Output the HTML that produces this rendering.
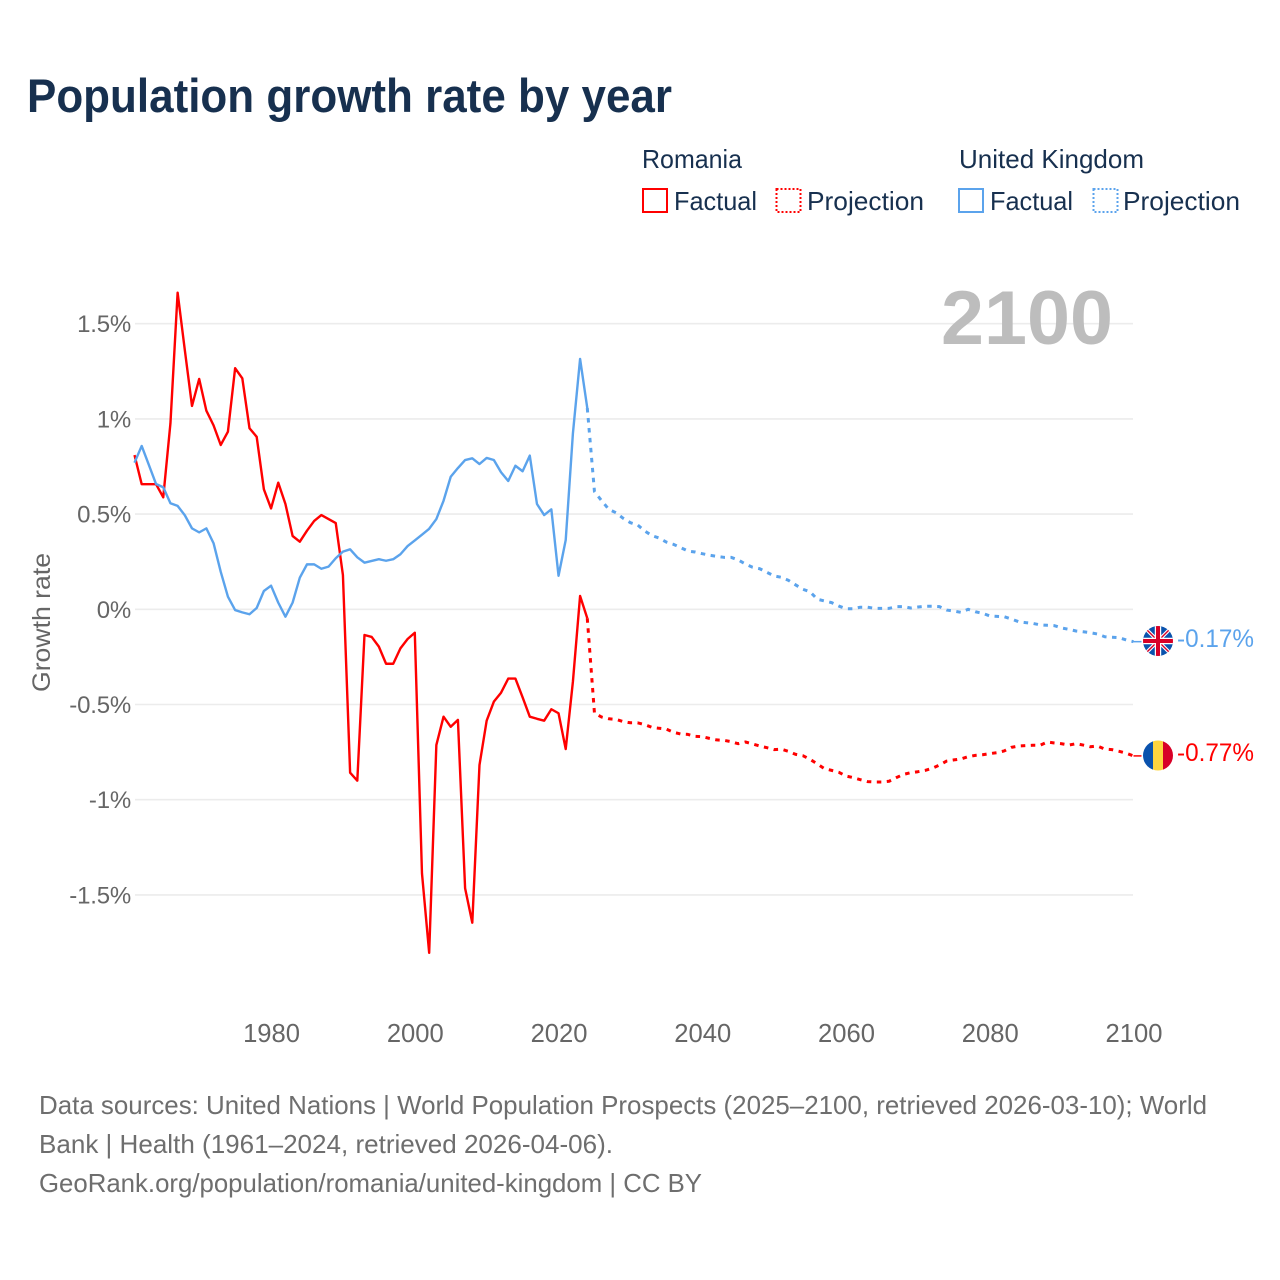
<!DOCTYPE html>
<html lang="en">
<head>
<meta charset="utf-8">
<title>Population growth rate by year</title>
<style>
html,body{margin:0;padding:0;background:#fff;}
svg{display:block;font-family:"Liberation Sans",sans-serif;}
</style>
</head>
<body>
<svg id="chart" width="1280" height="1280" viewBox="0 0 1280 1280" xmlns="http://www.w3.org/2000/svg">
  <defs>
    <clipPath id="flag-clip-uk"><circle cx="1158" cy="641" r="15"/></clipPath>
    <clipPath id="flag-clip-ro"><circle cx="1158" cy="755.5" r="15"/></clipPath>
  </defs>
  <rect width="1280" height="1280" fill="#fff"/>
  <text x="27" y="112" font-size="47" font-weight="700" fill="#17304f" textLength="645" lengthAdjust="spacingAndGlyphs">Population growth rate by year</text>

  <g font-size="26" fill="#17304f">
    <text x="642" y="168" textLength="100" lengthAdjust="spacingAndGlyphs">Romania</text>
    <rect x="643" y="189" width="24" height="23" fill="none" stroke="#ff0000" stroke-width="2"/>
    <text x="674" y="210" textLength="83" lengthAdjust="spacingAndGlyphs">Factual</text>
    <rect x="776.5" y="189" width="24" height="23" fill="none" stroke="#ff0000" stroke-width="2" stroke-dasharray="2 2"/>
    <text x="807" y="210" textLength="117" lengthAdjust="spacingAndGlyphs">Projection</text>
    <text x="959" y="168" textLength="185" lengthAdjust="spacingAndGlyphs">United Kingdom</text>
    <rect x="959" y="189" width="24" height="23" fill="none" stroke="#5ba3ec" stroke-width="2"/>
    <text x="990" y="210" textLength="83" lengthAdjust="spacingAndGlyphs">Factual</text>
    <rect x="1093.5" y="189" width="24" height="23" fill="none" stroke="#5ba3ec" stroke-width="2" stroke-dasharray="2 2"/>
    <text x="1123" y="210" textLength="117" lengthAdjust="spacingAndGlyphs">Projection</text>
  </g>

  <g id="grid"></g>
  <text x="941" y="344" font-size="76" font-weight="700" fill="#bdbdbd" textLength="172" lengthAdjust="spacingAndGlyphs">2100</text>
  <g id="y-axis" font-size="24" fill="#666" text-anchor="end"></g>
  <g id="x-axis" font-size="25.6" fill="#666" text-anchor="middle"></g>
  <text transform="translate(50,622.5) rotate(-90)" font-size="25" fill="#666" text-anchor="middle" textLength="139" lengthAdjust="spacingAndGlyphs">Growth rate</text>
  <g id="series" fill="none" stroke-width="2.4" stroke-linejoin="round"></g>

  <g id="end-markers">
    <g clip-path="url(#flag-clip-uk)">
      <rect x="1143" y="626" width="30" height="30" fill="#0a52ad"/>
      <path d="M1143 626L1173 656M1173 626L1143 656" stroke="#fff" stroke-width="3.6"/>
      <path d="M1143 626L1173 656M1173 626L1143 656" stroke="#d80027" stroke-width="1.4"/>
      <path d="M1158 626V656M1143 641H1173" stroke="#fff" stroke-width="6.4"/>
      <path d="M1158 626V656M1143 641H1173" stroke="#d80027" stroke-width="4"/>
    </g>
    <g clip-path="url(#flag-clip-ro)">
      <rect x="1143" y="740" width="10" height="31" fill="#0a52ad"/>
      <rect x="1153" y="740" width="10" height="31" fill="#fed53f"/>
      <rect x="1163" y="740" width="10" height="31" fill="#d80027"/>
    </g>
    <text x="1177" y="647" font-size="25" fill="#5ba3ec" textLength="77" lengthAdjust="spacingAndGlyphs">-0.17%</text>
    <text x="1177" y="761" font-size="25" fill="#ff0000" textLength="77" lengthAdjust="spacingAndGlyphs">-0.77%</text>
  </g>

  <g font-size="26" fill="#6e6e6e">
    <text x="39" y="1114" textLength="1168" lengthAdjust="spacingAndGlyphs">Data sources: United Nations | World Population Prospects (2025–2100, retrieved 2026-03-10); World</text>
    <text x="39" y="1153" textLength="574" lengthAdjust="spacingAndGlyphs">Bank | Health (1961–2024, retrieved 2026-04-06).</text>
    <text x="39" y="1192" textLength="663" lengthAdjust="spacingAndGlyphs">GeoRank.org/population/romania/united-kingdom | CC BY</text>
  </g>
</svg>
<script>
const firstFactualYear = 1961;
const firstProjectionYear = 2025;
const yTicks = [1.5, 1, 0.5, 0, -0.5, -1, -1.5];
const yTickLabels = ["1.5%", "1%", "0.5%", "0%", "-0.5%", "-1%", "-1.5%"];
const xTicks = [1980, 2000, 2020, 2040, 2060, 2080, 2100];
const xTickLabels = ["1980", "2000", "2020", "2040", "2060", "2080", "2100"];
const romaniaFactual = [
  0.810, 0.657, 0.657, 0.657, 0.588, 0.977, 1.663, 1.362, 1.068, 1.210,
  1.043, 0.966, 0.863, 0.933, 1.266, 1.213, 0.951, 0.906, 0.630, 0.530,
  0.665, 0.553, 0.385, 0.355, 0.413, 0.464, 0.495, 0.474, 0.453, 0.180,
  -0.858, -0.900, -0.135, -0.145, -0.196, -0.286, -0.286, -0.205, -0.156, -0.123,
  -1.387, -1.804, -0.713, -0.564, -0.617, -0.581, -1.465, -1.646, -0.818, -0.585,
  -0.485, -0.438, -0.364, -0.364, -0.462, -0.564, -0.575, -0.585, -0.525, -0.546,
  -0.734, -0.380, 0.070, -0.047
];
const romaniaProjection = [
  -0.546, -0.566, -0.575, -0.578, -0.590, -0.596, -0.596, -0.606, -0.620, -0.625,
  -0.629, -0.646, -0.655, -0.657, -0.667, -0.669, -0.678, -0.686, -0.688, -0.695,
  -0.706, -0.697, -0.707, -0.718, -0.727, -0.737, -0.735, -0.746, -0.762, -0.769,
  -0.788, -0.812, -0.837, -0.846, -0.856, -0.876, -0.884, -0.895, -0.905, -0.907,
  -0.907, -0.903, -0.884, -0.867, -0.858, -0.853, -0.846, -0.835, -0.818, -0.797,
  -0.791, -0.786, -0.774, -0.767, -0.764, -0.758, -0.753, -0.744, -0.725, -0.718,
  -0.716, -0.714, -0.714, -0.697, -0.702, -0.706, -0.713, -0.706, -0.713, -0.722,
  -0.718, -0.734, -0.737, -0.746, -0.756, -0.770
];
const ukFactual = [
  0.770, 0.858, 0.758, 0.658, 0.641, 0.557, 0.543, 0.494, 0.425, 0.404,
  0.425, 0.347, 0.197, 0.066, -0.004, -0.016, -0.026, 0.007, 0.096, 0.124,
  0.035, -0.039, 0.035, 0.166, 0.236, 0.236, 0.213, 0.224, 0.268, 0.303,
  0.315, 0.273, 0.245, 0.254, 0.263, 0.255, 0.263, 0.289, 0.332, 0.362,
  0.392, 0.423, 0.474, 0.570, 0.696, 0.742, 0.784, 0.793, 0.763, 0.795,
  0.784, 0.720, 0.674, 0.754, 0.725, 0.807, 0.553, 0.495, 0.525, 0.176,
  0.364, 0.924, 1.315, 1.057
];
const ukProjection = [
  0.618, 0.570, 0.525, 0.507, 0.478, 0.455, 0.443, 0.411, 0.387, 0.374,
  0.353, 0.341, 0.324, 0.306, 0.301, 0.292, 0.284, 0.278, 0.273, 0.273,
  0.259, 0.238, 0.221, 0.213, 0.194, 0.175, 0.168, 0.152, 0.128, 0.105,
  0.092, 0.053, 0.044, 0.035, 0.017, 0.003, 0.003, 0.011, 0.011, 0.005,
  0.005, 0.005, 0.014, 0.014, 0.007, 0.012, 0.016, 0.016, 0.014, -0.004,
  -0.009, -0.016, 0.000, -0.013, -0.021, -0.035, -0.037, -0.039, -0.051, -0.065,
  -0.070, -0.074, -0.082, -0.084, -0.086, -0.098, -0.105, -0.114, -0.118, -0.123,
  -0.130, -0.144, -0.147, -0.149, -0.161, -0.170
];

const SVG_NS = "http://www.w3.org/2000/svg";
function xScale(year) { return 134.5 + (year - 1961) * 7.187; }
function yScale(v) { return 609.3 - v * 190.4; }
function create(tag, attrs, parent) {
  const el = document.createElementNS(SVG_NS, tag);
  for (const k in attrs) el.setAttribute(k, attrs[k]);
  parent.appendChild(el);
  return el;
}
function pointsFrom(startYear, values) {
  return values.map(function (v, i) {
    return xScale(startYear + i).toFixed(2) + "," + yScale(v).toFixed(2);
  }).join(" ");
}

const gridGroup = document.getElementById("grid");
const yAxisGroup = document.getElementById("y-axis");
const xAxisGroup = document.getElementById("x-axis");
const seriesGroup = document.getElementById("series");
const markerGroup = document.getElementById("end-markers");

yTicks.forEach(function (t, i) {
  const line = create("line", { x1: 135, x2: 1133, y1: yScale(t), y2: yScale(t), stroke: "#ececec", "stroke-width": 1.6 }, gridGroup);
  
  
  const label = create("text", { x: 131, y: yScale(t) + 8.5, "letter-spacing": "-0.2" }, yAxisGroup);
  label.textContent = yTickLabels[i];
  
  
});
xTicks.forEach(function (t, i) {
  const label = create("text", { x: xScale(t) + 0.5, y: 1042 }, xAxisGroup);
  label.textContent = xTickLabels[i];
  
  
});

const romaniaFactualLine = create("polyline", { points: pointsFrom(firstFactualYear, romaniaFactual), stroke: "#ff0000" }, seriesGroup);


const romaniaProjectionLine = create("polyline", {
  points: pointsFrom(firstProjectionYear - 1, [romaniaFactual[romaniaFactual.length - 1]].concat(romaniaProjection)),
  stroke: "#ff0000", "stroke-width": 3, "stroke-dasharray": "4.5 5.5"
}, seriesGroup);


const ukFactualLine = create("polyline", { points: pointsFrom(firstFactualYear, ukFactual), stroke: "#5ba3ec" }, seriesGroup);


const ukProjectionLine = create("polyline", {
  points: pointsFrom(firstProjectionYear - 1, [ukFactual[ukFactual.length - 1]].concat(ukProjection)),
  stroke: "#5ba3ec", "stroke-width": 3, "stroke-dasharray": "4.5 5.5"
}, seriesGroup);



const endYear = firstProjectionYear + ukProjection.length - 1;
const ukConnector = create("line", {
  x1: xScale(endYear), x2: xScale(endYear) + 8,
  y1: yScale(ukProjection[ukProjection.length - 1]), y2: yScale(ukProjection[ukProjection.length - 1]),
  stroke: "#5ba3ec", "stroke-width": 1.5
}, markerGroup);


const romaniaConnector = create("line", {
  x1: xScale(endYear), x2: xScale(endYear) + 8,
  y1: yScale(romaniaProjection[romaniaProjection.length - 1]), y2: yScale(romaniaProjection[romaniaProjection.length - 1]),
  stroke: "#ff0000", "stroke-width": 1.5
}, markerGroup);


</script>
</body>
</html>
